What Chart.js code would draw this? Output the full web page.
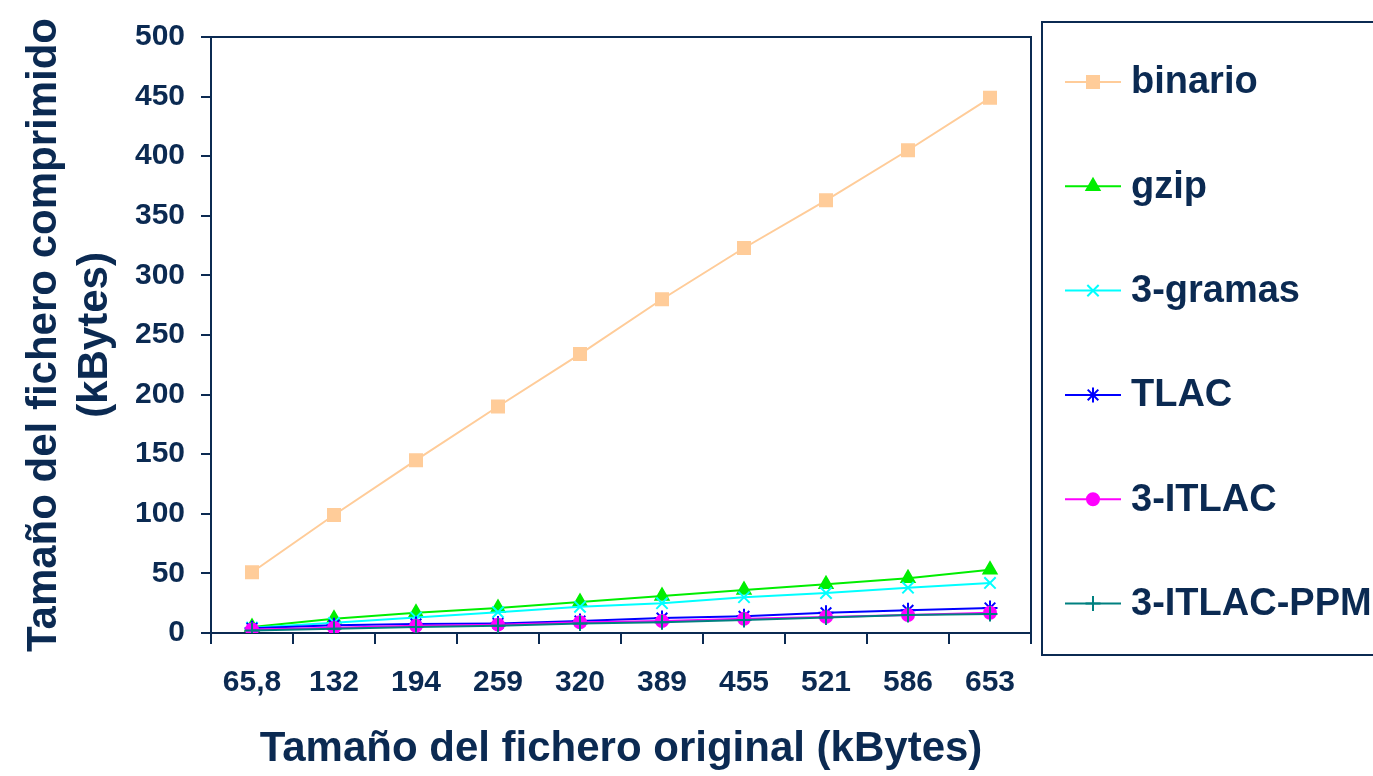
<!DOCTYPE html>
<html>
<head>
<meta charset="utf-8">
<script src="https://cdn.jsdelivr.net/npm/chart.js@4.4.1/dist/chart.umd.min.js"></script>
<style>
  html, body { margin: 0; padding: 0; background: #fff; }
  #wrap { width: 1373px; height: 776px; position: relative; }
</style>
</head>
<body>
<div id="wrap"><canvas id="sizeChart"></canvas></div>
<script>
// original file sizes (kBytes)
const sizes = ['65,8', '132', '194', '259', '320', '389', '455', '521', '586', '653'];

// compressed size per method (kBytes)
const binario   = [51, 99, 145, 190, 234, 280, 323, 363, 405, 449];
const gzip      = [5, 12, 17, 21, 26, 31, 36, 41, 46, 53];
const gramas3   = [4.5, 8.5, 13, 17.5, 22, 25, 30, 33.5, 38, 42];
const tlac      = [4, 6.5, 7.5, 8, 10, 12.5, 14, 17, 19, 21];
const itlac3    = [3, 4.5, 6, 7, 9, 10, 12, 13.5, 15, 17];
const itlacPpm3 = [2, 3.5, 5, 6, 8, 9, 11, 13, 15, 16];

const yTicksMax = 500;
const yStep = 50;

const navy = '#0b2a52';
const fontFamily = '"Liberation Sans", Arial, sans-serif';

const series = [
  { label: 'binario',     data: binario,   color: '#ffcc99', style: 'rect',     r: 8.5 },
  { label: 'gzip',        data: gzip,      color: '#00ee00', style: 'triangle', r: 7.5 },
  { label: '3-gramas',    data: gramas3,   color: '#00ffff', style: 'crossRot', r: 8 },
  { label: 'TLAC',        data: tlac,      color: '#0000ff', style: 'star',     r: 7.5 },
  { label: '3-ITLAC',     data: itlac3,    color: '#ff00ff', style: 'circle',   r: 6 },
  { label: '3-ITLAC-PPM', data: itlacPpm3, color: '#008080', style: 'cross',    r: 7.5 }
];

// plot frame (top + right edges) and the boxed legend on the right
const frameAndLegend = {
  id: 'frameAndLegend',
  afterDatasetsDraw(chart) {
    const ctx = chart.ctx;
    const a = chart.chartArea;
    ctx.save();
    ctx.strokeStyle = navy;
    ctx.lineWidth = 2;
    ctx.beginPath();
    ctx.moveTo(a.left, a.top);
    ctx.lineTo(a.right, a.top);
    ctx.lineTo(a.right, a.bottom);
    ctx.stroke();

    // legend box
    ctx.strokeRect(1042, 22, 360, 633);

    chart.data.datasets.forEach((ds, i) => {
      const y = 82 + i * 104.3;
      ctx.strokeStyle = ds.borderColor;
      ctx.fillStyle = ds.borderColor;
      ctx.lineWidth = 2;
      ctx.beginPath();
      ctx.moveTo(1065, y);
      ctx.lineTo(1121, y);
      ctx.stroke();
      Chart.helpers.drawPoint(ctx, {
        pointStyle: ds.pointStyle,
        radius: ds.pointRadius,
        rotation: 0,
        borderWidth: 2
      }, 1093, y);
      ctx.fillStyle = navy;
      ctx.font = 'bold 38px ' + fontFamily;
      ctx.textBaseline = 'middle';
      ctx.textAlign = 'left';
      ctx.fillText(ds.label, 1131, y + 1);
    });
    ctx.restore();
  }
};

const ctx = document.getElementById('sizeChart').getContext('2d');
new Chart(ctx, {
  type: 'line',
  data: {
    labels: sizes,
    datasets: series.map((s, i) => ({
      label: s.label,
      data: s.data,
      borderColor: s.color,
      backgroundColor: s.color,
      pointBorderColor: s.color,
      pointBackgroundColor: s.color,
      borderWidth: 2,
      pointStyle: s.style,
      pointRadius: s.r,
      pointBorderWidth: 2,
      tension: 0,
      order: series.length - i
    }))
  },
  options: {
    responsive: true,
    maintainAspectRatio: false,
    animation: false,
    layout: {
      padding: { top: 37, right: 342, left: 0, bottom: 0 }
    },
    plugins: {
      legend: { display: false },
      tooltip: { enabled: false }
    },
    scales: {
      x: {
        offset: true,
        grid: {
          offset: true,
          drawOnChartArea: false,
          drawTicks: true,
          tickLength: 11,
          color: navy,
          lineWidth: 2
        },
        border: { display: true, color: navy, width: 2 },
        ticks: {
          color: navy,
          padding: 21,
          maxRotation: 0,
          font: { family: fontFamily, size: 30, weight: 'bold' }
        },
        title: {
          display: true,
          text: 'Tamaño del fichero original (kBytes)',
          color: navy,
          padding: { top: 0, bottom: 1 },
          font: { family: fontFamily, size: 42, weight: 'bold' }
        },
        afterFit(scale) { scale.height = 143; }
      },
      y: {
        min: 0,
        max: yTicksMax,
        grid: {
          drawOnChartArea: false,
          drawTicks: true,
          tickLength: 10,
          color: navy,
          lineWidth: 2
        },
        border: { display: true, color: navy, width: 2 },
        ticks: {
          stepSize: yStep,
          color: navy,
          padding: 16,
          font: { family: fontFamily, size: 30, weight: 'bold' }
        },
        title: {
          display: true,
          text: ['Tamaño del fichero comprimido', '(kBytes)'],
          color: navy,
          padding: { top: 19, bottom: 0 },
          font: { family: fontFamily, size: 42, weight: 'bold', lineHeight: 1.22 }
        },
        afterFit(scale) { scale.width = 211; }
      }
    }
  },
  plugins: [frameAndLegend]
});
</script>
</body>
</html>
